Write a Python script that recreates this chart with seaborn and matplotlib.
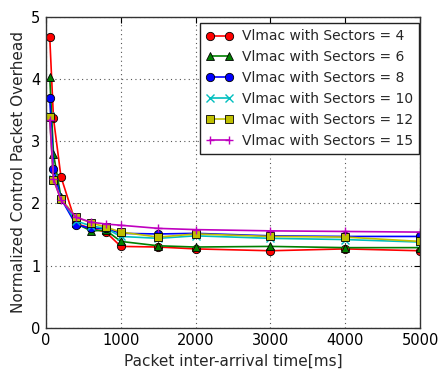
import matplotlib
matplotlib.use("Agg")
import matplotlib.pyplot as plt
import seaborn as sns
import pandas as pd

x_ms = [50, 100, 200, 400, 600, 800, 1000, 1500, 2000, 3000, 4000, 5000]
s4 = [4.68, 3.37, 2.43, 1.68, 1.60, 1.54, 1.31, 1.30, 1.27, 1.24, 1.27, 1.24]
s6 = [4.04, 2.80, 2.10, 1.68, 1.56, 1.57, 1.39, 1.32, 1.30, 1.31, 1.29, 1.29]
s8 = [3.69, 2.56, 2.08, 1.66, 1.60, 1.60, 1.52, 1.51, 1.52, 1.48, 1.47, 1.47]
s10 = [3.40, 2.40, 2.08, 1.72, 1.64, 1.60, 1.47, 1.44, 1.48, 1.44, 1.42, 1.38]
s12 = [3.39, 2.37, 2.08, 1.78, 1.69, 1.62, 1.54, 1.46, 1.51, 1.47, 1.46, 1.39]
s15 = [3.35, 2.40, 2.05, 1.78, 1.70, 1.67, 1.65, 1.60, 1.58, 1.56, 1.55, 1.54]

labels = ["Vlmac with Sectors = 4", "Vlmac with Sectors = 6", "Vlmac with Sectors = 8",
          "Vlmac with Sectors = 10", "Vlmac with Sectors = 12", "Vlmac with Sectors = 15"]
series = [s4, s6, s8, s10, s12, s15]

colors = ["#ff0000", "#008000", "#0000ff", "#00bfbf", "#bfbf00", "#bf00bf"]
markers = ["o", "^", "o", "x", "s", "+"]
edgecols = ["k", "k", "k", None, "k", None]

sns.set_style("white")
plt.rcParams["font.family"] = ["DejaVu Sans"]
plt.rcParams["font.size"] = 10

fig = plt.figure(figsize=(4.38, 3.76), dpi=100)
ax = fig.add_axes([0.105, 0.128, 0.854, 0.827])

for lab, ys, c, m, ec in zip(labels, series, colors, markers, edgecols):
    df = pd.DataFrame({"x": x_ms, "y": ys})
    kw = dict(markeredgecolor=ec if ec else c, markeredgewidth=0.6 if ec else 1.0)
    sns.lineplot(data=df, x="x", y="y", ax=ax, color=c, marker=m, markersize=6,
                 linewidth=1.2, label=lab, **kw)

ax.set_xlim(0, 5000)
ax.set_ylim(0, 5)
ax.set_xticks([0, 1000, 2000, 3000, 4000, 5000])
ax.set_yticks([0, 1, 2, 3, 4, 5])
ax.grid(True, linestyle=(0, (1, 3)), color="#555555", linewidth=0.8)
ax.tick_params(direction="in", top=True, right=True, length=4, width=0.8,
               labelsize=10.5, colors="k", pad=4)
for sp in ax.spines.values():
    sp.set_color("#333333")
    sp.set_linewidth(1.0)
ax.set_xlabel("Packet inter-arrival time[ms]", fontsize=11)
ax.set_ylabel("Normalized Control Packet Overhead", fontsize=11)

leg = ax.legend(loc="upper right", bbox_to_anchor=(0.998, 0.98), borderaxespad=0,
                fancybox=False, framealpha=1, edgecolor="#222222", numpoints=2,
                fontsize=10, handletextpad=0.6, borderpad=0.45)
leg.get_frame().set_linewidth(1.0)

fig.savefig("out.png", dpi=100)
